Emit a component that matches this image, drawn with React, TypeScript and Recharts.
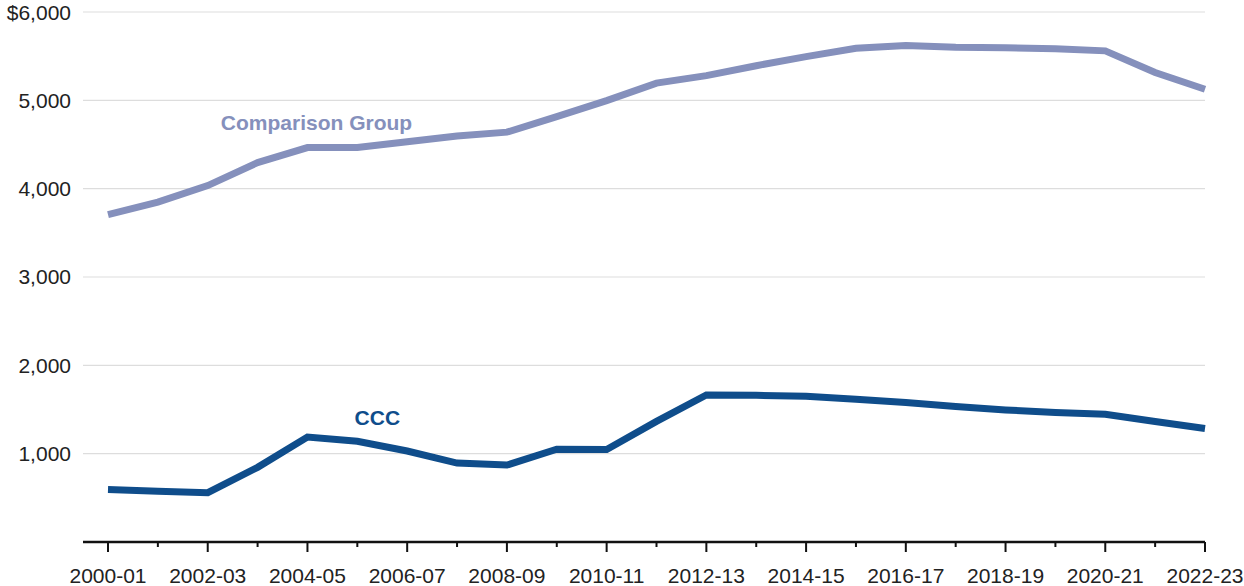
import { CartesianGrid, Line, LineChart, ReferenceDot, XAxis, YAxis } from "recharts";

const years = [
  "2000-01", "2001-02", "2002-03", "2003-04", "2004-05", "2005-06", "2006-07", "2007-08",
  "2008-09", "2009-10", "2010-11", "2011-12", "2012-13", "2013-14", "2014-15", "2015-16",
  "2016-17", "2017-18", "2018-19", "2019-20", "2020-21", "2021-22", "2022-23",
];

const ccc = [
  593, 575, 558, 845, 1188, 1140, 1030, 893, 871, 1050, 1048, 1365, 1665, 1660, 1650, 1615,
  1580, 1535, 1495, 1465, 1445, 1365, 1285,
];

const comparison = [
  3705, 3848, 4035, 4295, 4465, 4465, 4532, 4595, 4640, 4815, 4997, 5195, 5280, 5392, 5495,
  5590, 5620, 5600, 5595, 5585, 5560, 5315, 5125,
];

const yTicks = [1000, 2000, 3000, 4000, 5000, 6000];

const data = years.map((year, i) => ({ year, ccc: ccc[i], comparison: comparison[i] }));

const FONT = "'Liberation Sans', Arial, sans-serif";
const CCC_COLOR = "#0f4d8b";
const COMP_COLOR = "#8590bc";

function XTick(props: any) {
  const { x, y, payload, index } = props;
  const major = index % 2 === 0;
  return (
    <g>
      <line x1={x} x2={x} y1={y} y2={y + (major ? 10 : 5)} stroke="#111" strokeWidth={2} />
      {major && (
        <text x={x} y={y + 41} textAnchor="middle" fontSize={21} fontFamily={FONT} fill="#222">
          {payload.value}
        </text>
      )}
    </g>
  );
}

function seriesLabel(text: string, color: string, dx: number) {
  return (props: any) => {
    const vb = props.viewBox;
    const cx = vb.x + vb.width / 2 + dx;
    const cy = vb.y + vb.height / 2;
    return (
      <text x={cx} y={cy} dy="0.355em" textAnchor="middle" fontSize={21} fontWeight="bold"
        fontFamily={FONT} fill={color}>
        {text}
      </text>
    );
  };
}

export default function App() {
  return (
    <div style={{ position: "absolute", left: 0, top: 0 }}>
      <LineChart width={1244} height={586} data={data} margin={{ top: 12, right: 39, left: 8, bottom: 0 }}>
        <CartesianGrid vertical={false} stroke="#dddddd" strokeWidth={1.2} />
        <XAxis
          dataKey="year"
          interval={0}
          height={44}
          padding={{ left: 25, right: 0 }}
          tickSize={0}
          tickMargin={0}
          tickLine={false}
          axisLine={{ stroke: "#111", strokeWidth: 2.6 }}
          tick={<XTick />}
        />
        <YAxis
          domain={[0, 6000]}
          ticks={yTicks}
          width={75}
          axisLine={false}
          tickLine={false}
          tickSize={0}
          tickMargin={12}
          tick={{ fontSize: 21, fontFamily: FONT, fill: "#222" }}
          tickFormatter={(v: number) => (v === 6000 ? "$6,000" : v.toLocaleString("en-US"))}
        />
        <Line type="linear" dataKey="comparison" stroke={COMP_COLOR} strokeWidth={7} dot={false}
          isAnimationActive={false} />
        <Line type="linear" dataKey="ccc" stroke={CCC_COLOR} strokeWidth={7} dot={false}
          isAnimationActive={false} />
        <ReferenceDot x="2004-05" y={4748} r={1} fill="none" stroke="none"
          label={seriesLabel("Comparison Group", COMP_COLOR, 9)} />
        <ReferenceDot x="2005-06" y={1411} r={1} fill="none" stroke="none"
          label={seriesLabel("CCC", CCC_COLOR, 20)} />
      </LineChart>
    </div>
  );
}
